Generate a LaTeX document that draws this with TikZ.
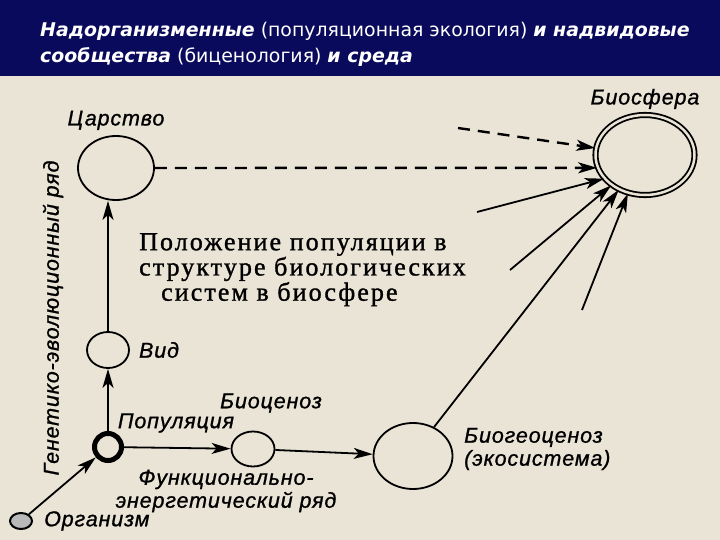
\documentclass[tikz,border=0pt]{standalone}
\usepackage{fontspec}
\setmainfont{Liberation Serif}
\newfontfamily\hdfont{DejaVu Sans}
\newfontfamily\lblfont{Liberation Sans}[LetterSpace=4, FakeBold=1]
\newfontfamily\capfont{Liberation Serif}[LetterSpace=8, FakeBold=1.2]
\usetikzlibrary{shapes.geometric}
\usetikzlibrary{arrows.meta}
\usetikzlibrary{positioning}

\definecolor{hdblue}{RGB}{10,10,92}
\definecolor{paper}{RGB}{234,228,214}

\tikzset{
  lvl/.style={ellipse, draw, line width=1.8pt, inner sep=0pt},
  lbl/.style={font=\lblfont\fontsize{21.5}{23}\selectfont\itshape, inner sep=1pt},
  hdtxt/.style={font=\hdfont\fontsize{18.9}{22}\selectfont, text=white, inner sep=0pt},
  link/.style={line width=1.8pt, -{Stealth[length=19pt,width=11pt,inset=5pt]}},
  dlink/.style={link, line width=2.4pt, dash pattern=on 12pt off 8pt},
}

\begin{document}
\begin{tikzpicture}[x=1pt, y=-1pt]
\useasboundingbox (0,0) rectangle (720,540);
\fill[paper] (0,76) rectangle (720,540);
\fill[hdblue] (0,0) rectangle (720,76);

% header
\node[hdtxt, anchor=base west] (hd1) at (40,37)
  {\textbf{\textit{Надорганизменные}} (популяционная экология) \textbf{\textit{и надвидовые}}};
\node[hdtxt, anchor=base west] (hd2) at (40,63)
  {\textbf{\textit{сообщества}} (биценология) \textbf{\textit{и среда}}};

% genetic-evolutionary row
\node[lvl, minimum width=76pt, minimum height=64pt] (tsar) at (116,168) {};
\node[lbl, above=4pt of tsar] (tsar-l) {Царство};
\node[lvl, minimum width=42pt, minimum height=36pt] (vid) at (108,350) {};
\node[lbl, right=8pt of vid] (vid-l) {Вид};
\node[circle, draw, line width=5pt, minimum size=27pt, inner sep=0pt] (pop) at (108,447) {};
\node[lbl] (pop-l) at (176,423) {Популяция};
\node[lbl, rotate=90] (gen) at (53,318) {Генетико-эволюционный ряд};

% organism
\node[ellipse, draw, line width=2pt, fill=gray!55, minimum width=22pt,
  minimum height=16pt, inner sep=0pt] (org) at (21,521) {};
\node[lbl, right=10pt of org] (org-l) {Организм};

% functional-energetic row
\node[lvl, minimum width=43pt, minimum height=35pt] (bcen) at (253,449) {};
\node[lbl] (bcen-l) at (271,403) {Биоценоз};
\node[lvl, minimum width=79pt, minimum height=66pt] (bgeo) at (413,456) {};
\node[lbl, anchor=west, align=left] (bgeo-l) at (463,449) {Биогеоценоз\\(экосистема)};
\node[lbl, align=center] (fun) at (226,491) {Функционально-\\энергетический ряд};

% biosphere
\node[lvl, double=paper, double distance=2.5pt, minimum width=99pt,
  minimum height=80pt] (bsf) at (645,155) {};
\node[lbl, above=4pt of bsf] (bsf-l) {Биосфера};

% caption
\node[font=\capfont\fontsize{26}{21.5}\selectfont, anchor=north west, align=left,
  inner sep=0pt] (cap) at (139,233)
  {Положение популяции в\\структуре биологических\\\hspace*{22pt}систем в биосфере};

\coordinate (s1) at (458,128);
\coordinate (s2) at (477,212);
\coordinate (s3) at (510,270);
\coordinate (s4) at (582,310);

\draw[link] (org) -- (pop);
\draw[link] (pop) -- (vid);
\draw[link] (vid) -- (vid.north |- tsar.south);
\draw[link] (pop) -- (bcen);
\draw[link] (bcen) -- (bgeo);
\draw[dlink] (s1) -- (bsf.172);
\draw[dlink] (tsar) -- (bsf.195);
\draw[link] (s2) -- (bsf.210);
\draw[link] (s3) -- (bsf.222);
\draw[link] (bgeo.54) -- (bsf.233);
\draw[link] (s4) -- (bsf.246);
\end{tikzpicture}
\end{document}
